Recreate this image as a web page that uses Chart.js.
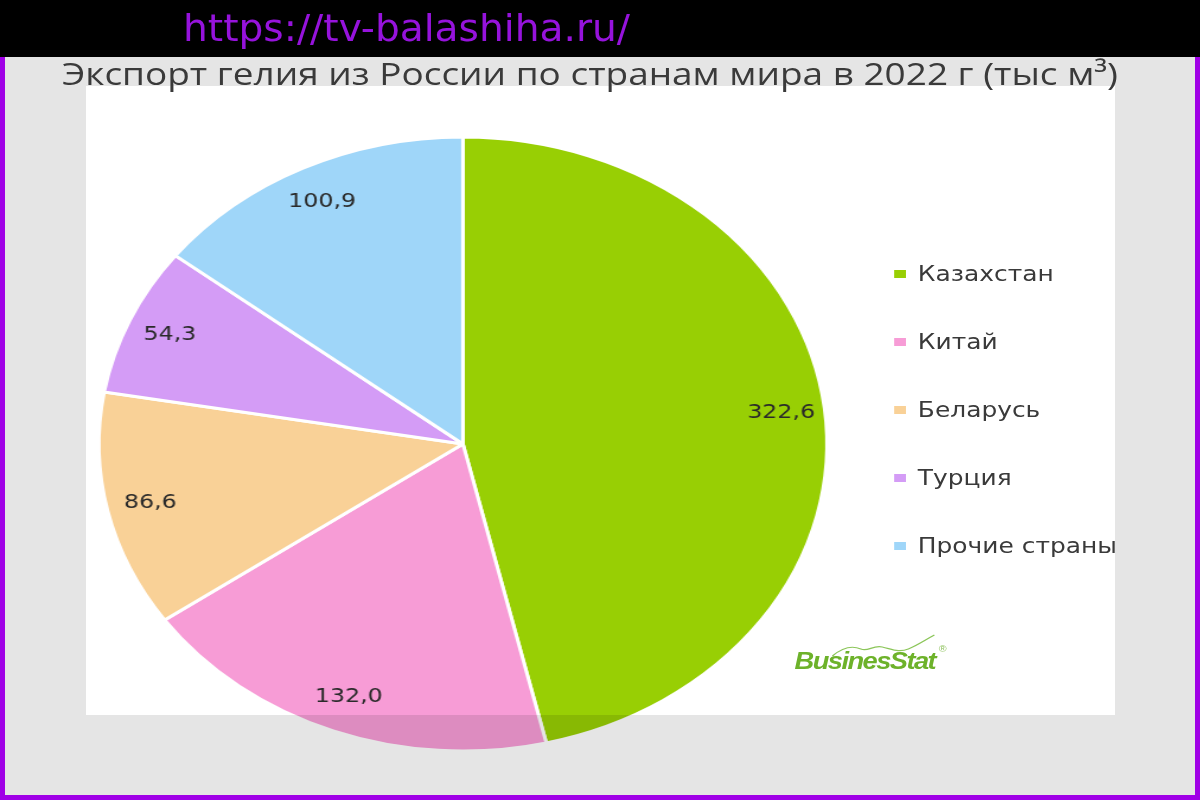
<!DOCTYPE html>
<html lang="ru">
<head>
<meta charset="utf-8">
<script src="https://cdn.jsdelivr.net/npm/chart.js@4"></script>
<style>
  html, body { margin:0; padding:0; }
  body { width:1200px; height:800px; overflow:hidden; background:#fff; position:relative; }
  #layer { position:absolute; left:0; top:0; width:1012px; height:800px; transform:scaleX(1.1858); transform-origin:0 0; }
  #chartBox { position:absolute; left:0; top:0; width:1012px; height:800px; }
  #legend { position:absolute; left:754px; top:0; font-family:"DejaVu Sans", sans-serif; font-size:21px; color:#3a3a3a; }
  .item { position:absolute; left:0; white-space:nowrap; height:30px; line-height:30px; }
  .mark { position:absolute; left:0; top:11px; width:10px; height:8px; }
  .txt { position:absolute; left:20px; top:0; }
  #logo { position:absolute; left:668px; top:628px; width:140px; height:50px; }
  #logoText { position:absolute; left:2px; top:20px; font-family:"Liberation Sans", Arial, sans-serif; font-weight:bold; font-style:italic; font-size:23px; letter-spacing:-1.3px; color:#6db22a; white-space:nowrap; }
  #logoText sup { font-size:9px; font-weight:normal; font-style:normal; letter-spacing:0; color:#8cc05a; vertical-align:top; position:relative; top:-4px; left:3px; }
  #shade { position:absolute; left:86px; top:86px; width:1029px; height:629px; box-shadow:0 0 0 3000px rgba(0,0,0,0.1); pointer-events:none; }
  #title { position:absolute; left:62px; top:52px; font-family:"Open Sans", sans-serif; color:#3a3a3a; white-space:nowrap; transform-origin:0 0; }
  #header { position:absolute; left:0; top:0; width:1200px; height:57px; background:#000; }
  #url { position:absolute; left:183px; top:6px; font-family:"DejaVu Sans", sans-serif; font-size:38px; color:#9613dc; white-space:nowrap; transform-origin:0 0; }
  .bd { position:absolute; background:#a000e6; }
</style>
</head>
<body>
<div id="layer">
  <div id="chartBox"><canvas id="c"></canvas></div>
  <div id="legend"></div>
  <div id="logo">
    <svg width="140" height="34" style="position:absolute;left:0;top:0">
      <path d="M34 28 C42 20, 50 17, 58 21 C64 24, 68 17, 76 19 C84 21, 90 25, 98 21 C106 17, 112 12, 120 7" fill="none" stroke="#8cc65a" stroke-width="1.2"/>
    </svg>
    <div id="logoText">BusinesStat<sup>®</sup></div>
  </div>
</div>
<div id="shade"></div>
<div id="title">Экспорт гелия из России по странам мира в 2022 г (тыс м³)</div>
<div id="header"></div>
<div id="url">https://tv-balashiha.ru/</div>
<div class="bd" style="left:0;top:57px;width:5px;height:743px"></div>
<div class="bd" style="left:1195px;top:57px;width:5px;height:743px"></div>
<div class="bd" style="left:0;top:795px;width:1200px;height:5px"></div>
<script>
// ---- data ----
const countries = ["Казахстан", "Китай", "Беларусь", "Турция", "Прочие страны"];
const exportValues = [322.6, 132.0, 86.6, 54.3, 100.9];
const sliceColors = ["#98cf04", "#f79cd6", "#f9d197", "#d49cf6", "#9fd6f9"];

const fmt = v => v.toFixed(1).replace('.', ',');

// legend (built from the data arrays)
const legendTop = 274 - 15;
const legend = document.getElementById('legend');
countries.forEach((name, i) => {
  const it = document.createElement('div');
  it.className = 'item';
  it.style.top = (legendTop + i * 68) + 'px';
  it.innerHTML = '<span class="mark" style="background:' + sliceColors[i] + '"></span><span class="txt">' + name + '</span>';
  legend.appendChild(it);
});

const labelPlugin = {
  id: 'sliceLabels',
  afterDatasetsDraw(chart) {
    const ctx = chart.ctx;
    const meta = chart.getDatasetMeta(0);
    ctx.save();
    ctx.font = '20px "DejaVu Sans", sans-serif';
    ctx.fillStyle = '#2a2a2a';
    ctx.textAlign = 'center';
    ctx.textBaseline = 'middle';
    meta.data.forEach((arc, i) => {
      const p = arc.getProps(['x', 'y', 'startAngle', 'endAngle', 'outerRadius'], true);
      const m = (p.startAngle + p.endAngle) / 2;
      const r = p.outerRadius * 0.88;
      ctx.fillText(fmt(exportValues[i]), p.x + Math.cos(m) * r, p.y + Math.sin(m) * r);
    });
    ctx.restore();
  }
};

new Chart(document.getElementById('c'), {
  type: 'pie',
  data: {
    labels: countries,
    datasets: [{
      data: exportValues,
      backgroundColor: sliceColors,
      borderColor: '#ffffff',
      borderWidth: 3,
      radius: 307
    }]
  },
  options: {
    responsive: true,
    maintainAspectRatio: false,
    animation: false,
    layout: { padding: { left: 80.4, top: 134, right: 311.6, bottom: 46 } },
    plugins: { legend: { display: false }, tooltip: { enabled: false } }
  },
  plugins: [labelPlugin]
});

// fit title and url widths
function fit(el, target, size) {
  el.style.fontSize = size + 'px';
  const w = el.getBoundingClientRect().width;
  el.style.transform = 'scaleX(' + (target / w) + ')';
}
fit(document.getElementById('title'), 1056, 31);
fit(document.getElementById('url'), 447, 38);
</script>
</body>
</html>
